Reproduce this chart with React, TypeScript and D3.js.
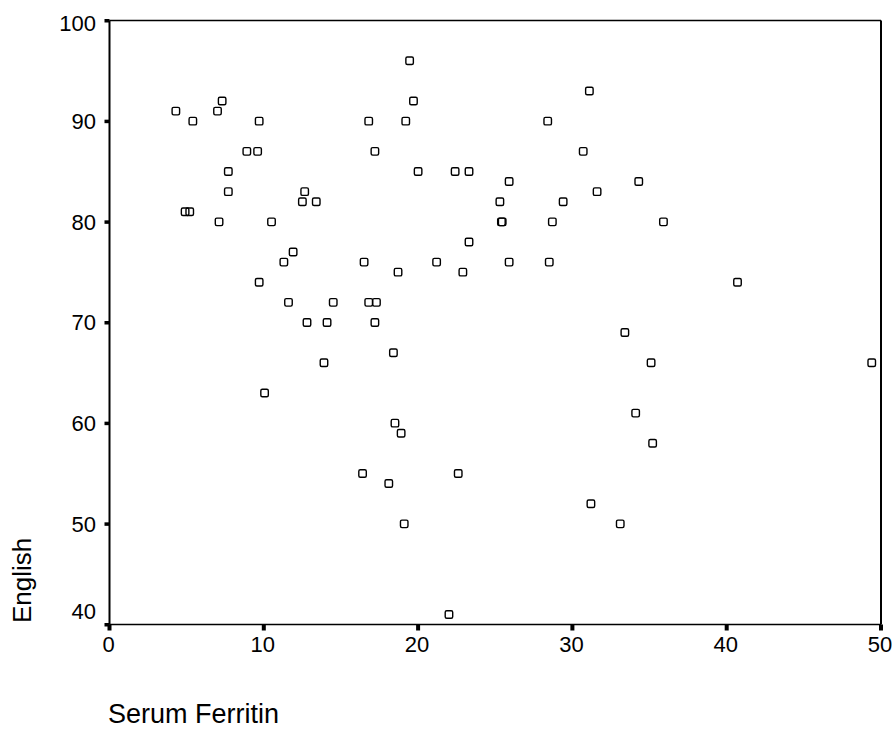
import React from "react";
import * as d3 from "d3";

const ferritin = [
  4.3, 5.4, 4.9, 5.2, 7.0, 7.3, 7.1, 7.7, 7.7, 8.9, 9.6, 9.7, 9.7, 10.05, 10.5,
  11.3, 11.9, 11.6, 12.8, 12.65, 12.5, 13.4, 13.9, 14.1, 14.5, 16.5, 16.4, 16.8,
  17.3, 16.8, 17.2, 17.2, 18.4, 18.5, 18.9, 18.1, 18.7, 19.1, 19.2, 19.45, 19.7,
  20.0, 21.2, 22.0, 22.4, 22.6, 22.9, 23.3, 23.3, 25.3, 25.4, 25.45, 25.9, 25.9,
  28.4, 28.5, 28.7, 29.4, 30.7, 31.1, 31.2, 31.6, 33.1, 33.4, 34.1, 34.3, 35.1,
  35.2, 35.9, 40.7, 49.4,
];
const english = [
  91, 90, 81, 81, 91, 92, 80, 85, 83, 87, 87, 90, 74, 63, 80,
  76, 77, 72, 70, 83, 82, 82, 66, 70, 72, 76, 55, 72,
  72, 90, 87, 70, 67, 60, 59, 54, 75, 50, 90, 96, 92,
  85, 76, 41, 85, 55, 75, 85, 78, 82, 80, 80, 84, 76,
  90, 76, 80, 82, 87, 93, 52, 83, 50, 69, 61, 84, 66,
  58, 80, 74, 66,
];
const xTicks = [0, 10, 20, 30, 40, 50];
const yTicks = [40, 50, 60, 70, 80, 90, 100];
const xTitle = "Serum Ferritin";
const yTitle = "English";

export default function App() {
  const x = d3.scaleLinear().domain([0, 50]).range([109.5, 881]);
  const y = d3.scaleLinear().domain([40, 100]).range([624.5, 20.5]);
  const font = "'Liberation Sans', Arial, Helvetica, sans-serif";
  const pts = d3.zip(ferritin, english) as [number, number][];
  const s = 7.5;
  return (
    <svg
      width={895}
      height={731}
      style={{ position: "absolute", left: 0, top: 0, background: "#fff" }}
    >
      <rect x={0} y={0} width={895} height={731} fill="#fff" />
      {/* frame */}
      <line x1={x(0)} x2={x(50)} y1={y(100)} y2={y(100)} stroke="#000" strokeWidth={1.5} />
      <line x1={x(50)} x2={x(50)} y1={y(100)} y2={y(40)} stroke="#000" strokeWidth={2} />
      <line x1={x(0)} x2={x(50)} y1={y(40)} y2={y(40)} stroke="#000" strokeWidth={1.5} />
      <line x1={x(0)} x2={x(0)} y1={y(100)} y2={y(40)} stroke="#000" strokeWidth={2} />
      {/* y ticks */}
      {yTicks.map((t) => (
        <g key={"y" + t}>
          <rect x={x(0) - 5} y={y(t) - 1.5} width={5} height={3.5} fill="#000" />
          <text
            x={96}
            y={Math.min(Math.max(y(t), 23), 611)}
            dy="0.36em"
            textAnchor="end"
            fontFamily={font}
            fontSize={22}
            fill="#000"
          >
            {t}
          </text>
        </g>
      ))}
      {/* x ticks */}
      {xTicks.map((t) => (
        <g key={"x" + t}>
          <rect x={x(t) - 2} y={y(40)} width={4} height={6} fill="#000" />
          <text
            x={x(t) - 1}
            y={652}
            textAnchor="middle"
            fontFamily={font}
            fontSize={22}
            fill="#000"
          >
            {t}
          </text>
        </g>
      ))}
      {/* points */}
      {pts.map(([a, b], i) => (
        <rect
          key={i}
          x={x(a) - s / 2}
          y={y(b) - s / 2}
          width={s}
          height={s}
          rx={1.5}
          fill="none"
          stroke="#000"
          strokeWidth={1.4}
        />
      ))}
      <text x={108} y={723} fontFamily={font} fontSize={27} fill="#000">
        {xTitle}
      </text>
      <text
        transform={`translate(31,623) rotate(-90)`}
        fontFamily={font}
        fontSize={26}
        fill="#000"
      >
        {yTitle}
      </text>
    </svg>
  );
}
